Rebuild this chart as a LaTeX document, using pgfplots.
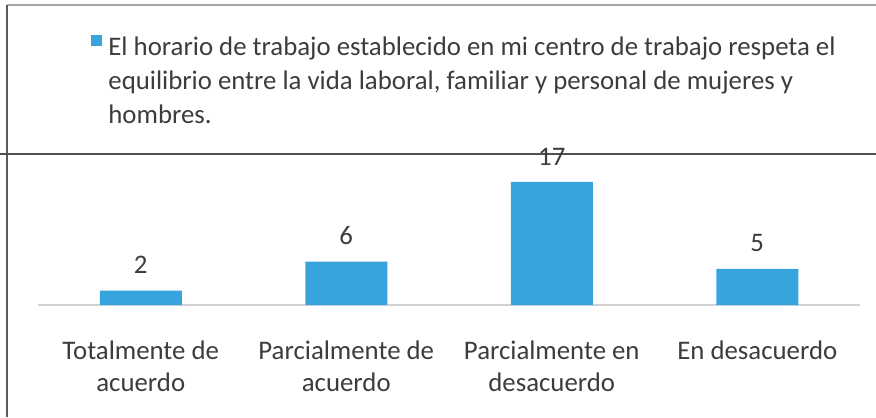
\documentclass[border=0pt]{standalone}
\usepackage{pgfplots}
\pgfplotsset{compat=1.18}
\usepackage{fontspec}
\setmainfont{Carlito}
\definecolor{barblue}{RGB}{56,164,221}
\definecolor{txt}{RGB}{60,60,60}
\definecolor{axgray}{RGB}{210,210,210}
\begin{document}
\begin{tikzpicture}
\useasboundingbox (0,0) rectangle (438pt,208.5pt);
\draw[color={rgb,255:red,170;green,165;blue,165}, line width=0.7pt] (3.5pt,206pt) -- (438pt,206pt);
\draw[color={rgb,255:red,90;green,90;blue,90}, line width=0.7pt] (3.5pt,206pt) -- (3.5pt,0pt);
\draw[color={rgb,255:red,80;green,80;blue,80}, line width=0.6pt] (0pt,131.5pt) -- (438pt,131.5pt);
\begin{axis}[
  at={(19pt,56pt)}, anchor=south west,
  scale only axis,
  width=411pt, height=72.4pt,
  xmin=-0.5, xmax=3.5, ymin=0, ymax=20,
  axis y line=none,
  axis x line=bottom,
  x axis line style={draw=axgray, line width=0.6pt, -},
  major tick length=0pt,
  /pgf/number format/assume math mode=true,
  xtick={0,1,2,3},
  xticklabels={{Totalmente de\\acuerdo},{Parcialmente de\\acuerdo},{Parcialmente en\\desacuerdo},{En desacuerdo}},
  xticklabel style={align=center, anchor=north, inner sep=0pt, yshift=-17.5pt,
     font=\fontsize{13.4}{16}\selectfont, text=txt},
  ybar, bar width=41pt,
  nodes near coords,
  every node near coord/.append style={anchor=south, inner sep=0pt, yshift=8.25pt,
     font=\fontsize{13.4}{16}\selectfont, text=txt},
  legend style={draw=none, fill=none, at={(0.0645,1.865)}, anchor=north west,
     inner sep=0pt, nodes={inner sep=0pt}, column sep=3pt,
     font=\fontsize{13.4}{17}\selectfont, text=txt},
  legend cell align=left,
  legend image code/.code={\fill[barblue] (0pt,0.5pt) rectangle (5.5pt,6pt);},
]
\addplot[fill=barblue, draw=none] coordinates {(0,2) (1,6) (2,17) (3,5)};
\addlegendentry{\parbox[t]{380pt}{\raggedright El horario de trabajo establecido en mi centro de trabajo respeta el\\equilibrio entre la vida laboral, familiar y personal de mujeres y\\hombres.}}
\end{axis}
\end{tikzpicture}
\end{document}
